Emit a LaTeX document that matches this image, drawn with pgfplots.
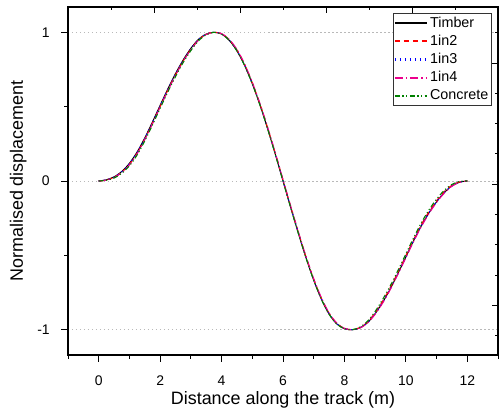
\documentclass[border=0pt]{standalone}
\usepackage{fontspec}
\setmainfont{Liberation Sans}
\usepackage{pgfplots}
\usepackage{pgfplotstable}
\pgfplotsset{compat=1.18}

\definecolor{cConc}{HTML}{008000}

% x, Timber, 1in2, 1in3, 1in4, Concrete
\pgfplotstableread{
x     T      A      B      C      D
0     0      0      0      0      0
0.25  0.008  0.007  0.008  0.006  0.005
0.5   0.028  0.025  0.026  0.023  0.020
0.75  0.064  0.059  0.062  0.057  0.052
1     0.119  0.112  0.116  0.109  0.102
1.25  0.195  0.187  0.191  0.183  0.175
1.5   0.290  0.282  0.286  0.278  0.270
1.75  0.397  0.389  0.393  0.385  0.377
2     0.509  0.501  0.505  0.497  0.489
2.25  0.619  0.611  0.615  0.607  0.599
2.5   0.722  0.714  0.718  0.710  0.702
2.75  0.814  0.807  0.810  0.804  0.797
3     0.892  0.886  0.889  0.883  0.877
3.25  0.953  0.949  0.951  0.947  0.943
3.5   0.988  0.986  0.987  0.985  0.983
3.75  1.000  1.000  1.000  1.000  1.000
4     0.988  0.990  0.989  0.991  0.988
4.25  0.946  0.950  0.948  0.952  0.946
4.5   0.875  0.881  0.878  0.885  0.875
4.75  0.777  0.783  0.780  0.787  0.777
5     0.654  0.660  0.657  0.664  0.654
5.25  0.511  0.517  0.514  0.521  0.511
5.5   0.351  0.357  0.354  0.361  0.351
5.75  0.179  0.185  0.182  0.189  0.179
6     0.000  0.006  0.003  0.010  0.000
6.25 -0.178 -0.172 -0.175 -0.168 -0.178
6.5  -0.352 -0.346 -0.349 -0.342 -0.352
6.75 -0.517 -0.511 -0.514 -0.507 -0.517
7    -0.667 -0.661 -0.664 -0.657 -0.667
7.25 -0.795 -0.789 -0.792 -0.785 -0.795
7.5  -0.895 -0.890 -0.892 -0.887 -0.895
7.75 -0.961 -0.957 -0.959 -0.955 -0.961
8    -0.993 -0.991 -0.992 -0.990 -0.993
8.25 -1.000 -1.000 -1.000 -1.000 -1.000
8.5  -0.988 -0.986 -0.988 -0.989 -0.983
8.75 -0.953 -0.949 -0.953 -0.955 -0.943
9    -0.892 -0.886 -0.892 -0.896 -0.877
9.25 -0.814 -0.806 -0.814 -0.819 -0.794
9.5  -0.722 -0.714 -0.722 -0.727 -0.702
9.75 -0.619 -0.611 -0.619 -0.624 -0.599
10   -0.511 -0.503 -0.511 -0.516 -0.491
10.25 -0.403 -0.395 -0.403 -0.408 -0.383
10.5 -0.303 -0.295 -0.303 -0.308 -0.283
10.75 -0.215 -0.207 -0.215 -0.220 -0.195
11   -0.140 -0.133 -0.140 -0.144 -0.122
11.25 -0.078 -0.072 -0.078 -0.082 -0.063
11.5 -0.033 -0.029 -0.033 -0.035 -0.023
11.75 -0.008 -0.006 -0.008 -0.009 -0.003
12    0      0      0      0      0
}\curves

\pgfplotsset{
  box/.style={
    at={(0,0)}, anchor=south west,
    width=430bp, height=348bp, scale only axis,
    xmin=-1, xmax=13, ymin=-1.17, ymax=1.17,
    major tick length=6.5bp, minor tick length=3.5bp,
    every tick/.style={black, line width=0.9bp},
    axis line style={line width=1.2bp},
  },
}

\begin{document}
\begin{tikzpicture}
\begin{axis}[
    box,
    xtick pos=left, ytick pos=left, tick align=outside,
    xtick={0,2,...,12}, minor xtick={-1,1,...,13},
    ytick={-1,0,1}, minor ytick={-0.5,0.5},
    yticklabels={-1,0,1},
    /pgf/number format/assume math mode=true,
    tick label style={font=\fontsize{14}{16}\selectfont},
    xticklabel style={anchor=base, yshift=-23.5bp},
    yticklabel style={anchor=east, xshift=-8.3bp},
    ymajorgrids,
    grid style={gray!55, line width=0.9bp, dash pattern=on 1.5bp off 2.5bp},
    xlabel={Distance along the track (m)},
    ylabel={Normalised displacement},
    every axis x label/.style={at={(axis description cs:0.5,-0.1434)}, anchor=base,
      font=\fontsize{18}{21}\selectfont},
    every axis y label/.style={at={(axis description cs:-0.1047,0.5)}, anchor=base, rotate=90,
      font=\fontsize{18}{21}\selectfont},
    legend style={at={(axis description cs:1,1)}, anchor=north east,
      xshift=-6.6bp, yshift=-6bp, draw=black!80, line width=0.9bp,
      font=\fontsize{14.4}{17}\selectfont, inner sep=0.5bp, row sep=0bp,
      nodes={text height=11bp, text depth=3bp, inner sep=2.1bp}},
    legend cell align=left,
    legend image code/.code={\draw[#1, line width=2.2bp] (0bp,0bp) -- (32bp,0bp);},
]
\addplot[black, line width=1bp, smooth] table[x=x, y=T] {\curves};
\addlegendentry{Timber}
\addplot[red, line width=1.1bp, smooth, dash pattern=on 5bp off 4bp] table[x=x, y=A] {\curves};
\addlegendentry{1in2}
\addplot[blue, line width=1.1bp, smooth, dash pattern=on 1.2bp off 3.8bp] table[x=x, y=B] {\curves};
\addlegendentry{1in3}
\addplot[magenta, line width=1.1bp, smooth, dash pattern=on 8bp off 3bp on 1.5bp off 3bp] table[x=x, y=C] {\curves};
\addlegendentry{1in4}
\addplot[cConc, line width=1.1bp, smooth, dash pattern=on 5bp off 2.5bp on 1.2bp off 2.5bp on 1.2bp off 2.5bp] table[x=x, y=D] {\curves};
\addlegendentry{Concrete}
\end{axis}
% Origin-style secondary ticks on top and right, pointing in
\begin{axis}[
    box,
    xtick pos=right, ytick pos=right, tick align=inside,
    xtick={1.8,4.6,7.4,10.2}, minor xtick={0.4,3.2,6.0,8.8,11.6},
    ytick={0.793,-0.022,-0.836},
    minor ytick={0.997,0.589,0.386,0.182,-0.225,-0.429,-0.632,-1.040},
    xticklabels={}, yticklabels={},
]
\addplot[draw=none] coordinates {(0,0)};
\end{axis}
\pgfresetboundingbox
\useasboundingbox (-68bp,-61bp) rectangle (431bp,355bp);
\end{tikzpicture}
\end{document}
